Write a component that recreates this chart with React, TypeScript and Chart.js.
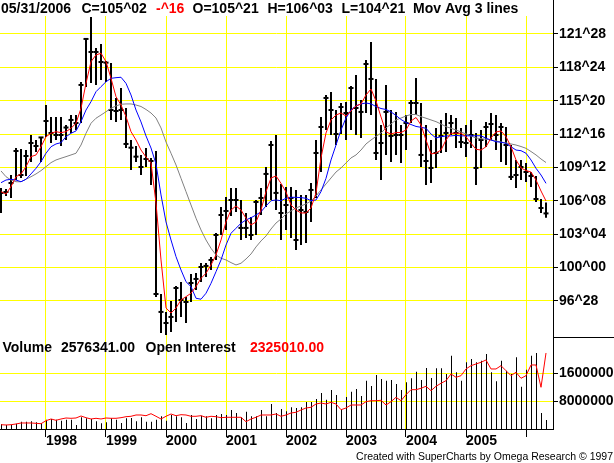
import React, { useEffect, useRef } from 'react';
import { Chart, registerables } from 'chart.js';

Chart.register(...registerables);

const FONT = "'Liberation Sans', Arial, Helvetica, sans-serif";

// Month index 0 = April 1997, last = May 2006
const START_YEAR = 1997;
const START_MONTH = 4;
const YEARS = [1998, 1999, 2000, 2001, 2002, 2003, 2004, 2005, 2006];

const PRICE_TICKS = [96.875, 100, 103.125, 106.25, 109.375, 112.5, 115.625, 118.75, 121.875];
const VOLUME_TICKS = [8000000, 16000000];

const highs = [
  107.44, 107.35, 108.66, 111.19, 111.10, 111.00, 112.41, 111.94, 112.22, 115.22,
  114.10, 114.10, 114.10, 113.35, 114.28, 114.28, 117.38, 121.50, 123.47, 120.56,
  120.94, 119.34, 119.16, 115.88, 116.81, 114.94, 111.94, 111.38, 110.54, 111.19,
  110.26, 110.91, 97.51, 95.83, 96.86, 98.26, 98.64, 97.23, 99.39, 99.48,
  100.42, 100.42, 100.98, 103.23, 105.66, 106.60, 107.44, 107.44, 106.32, 105.10,
  104.73, 106.32, 107.44, 109.41, 111.85, 112.41, 107.82, 107.54, 107.54, 107.26,
  106.79, 106.79, 107.91, 111.94, 114.10, 116.16, 116.44, 114.75, 115.41, 115.50,
  117.00, 118.03, 115.69, 119.44, 121.12, 117.66, 113.35, 117.10, 114.75, 114.57,
  113.35, 114.28, 115.69, 117.75, 115.41, 113.35, 111.94, 113.07, 113.82, 114.47,
  114.28, 114.00, 113.07, 113.35, 113.82, 112.60, 112.88, 113.63, 114.47, 114.28,
  113.53, 113.16, 111.47, 110.07, 110.07, 109.79, 108.94, 108.57, 106.41, 106.094,
];

const lows = [
  105.10, 106.69, 106.51, 108.19, 108.38, 108.57, 109.88, 110.82, 109.88, 112.22,
  111.66, 111.94, 111.38, 111.94, 112.60, 112.88, 113.53, 116.91, 117.28, 117.10,
  117.56, 117.38, 113.82, 113.63, 113.82, 111.19, 109.13, 109.88, 108.66, 109.41,
  107.73, 97.23, 93.86, 93.67, 93.95, 94.89, 95.36, 94.79, 96.76, 97.89,
  98.64, 99.11, 99.76, 100.70, 103.04, 103.51, 104.82, 105.20, 102.57, 102.76,
  102.57, 103.04, 104.91, 105.66, 106.32, 105.38, 102.57, 103.51, 102.76, 101.63,
  102.10, 102.29, 104.26, 106.51, 108.94, 112.88, 112.41, 111.47, 112.50, 111.94,
  112.88, 112.41, 112.13, 114.47, 114.28, 110.07, 108.19, 110.54, 109.88, 110.54,
  109.79, 111.00, 113.53, 114.28, 109.41, 107.73, 107.91, 109.32, 110.72, 110.82,
  112.41, 111.19, 111.19, 110.35, 111.19, 107.73, 109.32, 111.29, 111.94, 111.00,
  109.88, 109.60, 108.19, 107.44, 108.19, 108.01, 107.54, 106.13, 105.10, 104.656,
];

const closes = [
  106.98, 107.07, 107.91, 110.91, 108.66, 110.44, 111.66, 111.38, 112.18, 113.72,
  112.60, 112.41, 112.41, 113.11, 113.82, 113.53, 117.10, 121.41, 120.19, 120.19,
  119.25, 119.19, 114.75, 114.66, 114.75, 111.57, 111.22, 110.38, 109.41, 110.16,
  109.97, 97.51, 95.83, 94.79, 95.36, 98.07, 96.95, 96.76, 98.54, 98.92,
  100.04, 100.14, 100.70, 103.04, 104.91, 105.29, 106.32, 106.32, 103.70, 103.70,
  103.04, 106.13, 106.51, 108.76, 111.47, 106.98, 105.10, 105.85, 106.51, 102.57,
  105.38, 105.20, 107.26, 110.72, 113.16, 115.88, 114.75, 112.50, 115.03, 114.47,
  116.81, 114.94, 114.57, 119.06, 117.66, 110.72, 111.66, 114.57, 112.32, 112.41,
  112.41, 113.53, 115.41, 115.41, 110.54, 109.97, 109.32, 110.72, 112.32, 112.60,
  113.53, 112.60, 111.75, 111.66, 112.41, 109.32, 111.94, 113.16, 113.44, 112.41,
  113.16, 111.47, 108.48, 108.66, 109.41, 108.94, 108.57, 106.41, 105.57, 105.0625,
];

const maFast = [
  107.10, 106.88, 107.57, 108.50, 108.76, 109.44, 110.38, 110.54, 111.31, 112.25,
  112.57, 112.72, 112.63, 112.72, 113.04, 113.51, 114.91, 117.25, 119.28, 119.91,
  120.07, 119.28, 117.72, 116.00, 115.22, 114.13, 112.72, 111.94, 111.00, 110.35,
  109.79, 106.04, 100.70, 96.20, 95.73, 96.20, 96.95, 97.26, 97.58, 98.20,
  98.98, 99.45, 100.23, 101.17, 102.57, 104.29, 105.38, 105.76, 105.38, 104.61,
  103.98, 104.26, 105.38, 107.10, 108.38, 108.57, 107.88, 107.07, 105.85, 105.38,
  105.10, 105.10, 105.57, 106.98, 110.26, 112.60, 113.82, 114.28, 114.47, 114.19,
  114.66, 115.13, 115.32, 116.16, 116.72, 115.60, 114.10, 112.69, 112.50, 112.64,
  112.64, 112.88, 113.72, 114.05, 113.35, 111.94, 110.63, 110.72, 111.00, 111.94,
  112.57, 112.57, 112.57, 112.25, 111.63, 111.07, 111.00, 111.31, 112.13, 112.69,
  112.79, 112.25, 111.31, 110.07, 109.32, 109.08, 108.94, 108.19, 107.16, 106.23,
];

const maMid = [
  107.94, 108.19, 108.26, 108.19, 108.03, 108.26, 108.76, 109.29, 109.91, 110.70,
  111.31, 111.57, 111.69, 112.25, 112.57, 112.79, 113.66, 114.75, 115.53, 116.47,
  116.94, 117.40, 117.72, 117.78, 117.82, 117.25, 116.16, 114.75, 113.63, 112.32,
  111.19, 109.69, 106.79, 104.26, 102.57, 101.01, 99.76, 98.66, 98.20, 97.11,
  97.02, 97.58, 98.51, 99.60, 100.70, 102.10, 103.20, 103.67, 104.14, 104.45,
  104.66, 104.91, 105.22, 105.76, 106.25, 106.32, 106.25, 106.48, 106.57, 106.57,
  106.54, 106.48, 106.25, 106.32, 107.10, 108.35, 110.07, 111.47, 112.88, 114.00,
  114.75, 115.13, 115.32, 115.41, 115.32, 115.08, 114.89, 114.80, 114.57, 114.24,
  113.86, 113.58, 113.39, 113.21, 113.13, 113.04, 112.50, 112.13, 112.25, 112.32,
  112.32, 112.38, 112.32, 112.34, 112.32, 112.34, 112.34, 112.10, 111.94, 111.78,
  111.73, 111.63, 111.31, 111.00, 110.94, 110.70, 110.07, 109.29, 108.66, 107.88,
];

const maSlow = [
  109.04, 108.50, 108.19, 108.03, 108.03, 108.26, 108.50, 108.76, 109.07, 109.44,
  109.82, 110.07, 110.23, 110.38, 110.54, 110.70, 111.47, 112.57, 113.51, 113.98,
  114.28, 114.59, 114.91, 115.13, 115.29, 115.32, 115.32, 115.22, 115.08, 114.80,
  114.47, 114.00, 113.07, 111.75, 110.70, 109.60, 108.35, 107.10, 105.85, 104.61,
  103.51, 102.57, 101.79, 101.17, 100.86, 100.70, 100.45, 100.23, 100.39, 100.79,
  101.26, 101.92, 102.48, 102.95, 103.60, 104.16, 104.54, 105.01, 105.29, 105.57,
  105.76, 105.95, 106.23, 106.69, 107.26, 107.82, 108.38, 108.94, 109.32, 109.79,
  110.26, 110.54, 111.00, 111.57, 111.94, 112.27, 112.60, 113.07, 113.44, 113.82,
  114.00, 114.19, 114.33, 114.33, 114.13, 113.98, 113.82, 113.66, 113.44, 113.19,
  113.04, 112.88, 112.69, 112.50, 112.32, 112.13, 112.06, 112.01, 111.94, 111.85,
  111.75, 111.66, 111.57, 111.47, 111.33, 111.16, 110.86, 110.54, 110.16, 109.83,
];

const volume = [
  1430000, 1140000, 1230000, 1510000, 2090000, 2090000, 2200000, 1910000, 1710000, 2660000,
  2860000, 2660000, 2370000, 2660000, 2660000, 1140000, 3340000, 3060000, 2860000, 2200000,
  1630000, 1910000, 3060000, 2660000, 1710000, 3060000, 3140000, 2200000, 3340000, 2090000,
  2090000, 2660000, 3630000, 2370000, 4000000, 3630000, 3340000, 1710000, 4000000, 2860000,
  3800000, 3630000, 3060000, 4000000, 4290000, 4000000, 5430000, 4570000, 3340000, 4940000,
  3630000, 3630000, 5430000, 3630000, 7140000, 4570000, 5710000, 5060000, 6200000, 6000000,
  6200000, 7710000, 7710000, 8570000, 10290000, 8370000, 11140000, 9710000, 5710000, 9140000,
  10660000, 11430000, 9430000, 13800000, 12290000, 15430000, 14290000, 13800000, 14000000, 12860000,
  11140000, 13340000, 14490000, 16370000, 14000000, 17430000, 14570000, 17340000, 17340000, 15710000,
  20940000, 16200000, 13800000, 19060000, 20000000, 19060000, 19510000, 21430000, 16200000, 13630000,
  19510000, 16660000, 15710000, 20490000, 12090000, 16940000, 20940000, 21710000, 4570000, 2576341,
];

const openInterest = [
  131500, 122400, 131500, 153000, 183600, 183600, 183600, 174400, 162100, 253900,
  305900, 266200, 305900, 336500, 327300, 336500, 397700, 345700, 305900, 327300,
  305900, 336500, 327300, 327300, 345700, 376300, 388500, 428300, 428300, 406900,
  468100, 388500, 305900, 388500, 458900, 406900, 437500, 428300, 388500, 388500,
  406900, 357900, 388500, 376300, 345700, 357900, 357900, 357900, 357900, 223300,
  305900, 357900, 428300, 428300, 428300, 458900, 388500, 428300, 489500, 510900,
  581200, 642400, 663800, 764800, 795400, 764800, 816800, 764800, 590400, 642400,
  734200, 734200, 734200, 835200, 865800, 865800, 878000, 734200, 835200, 969800,
  865800, 1049300, 1202300, 1202300, 1245100, 1306300, 1171700, 1306300, 1398100, 1477600,
  1682600, 1581600, 1630600, 1835500, 1936500, 1988500, 2040500, 2110800, 1835500, 1835500,
  1936500, 1783500, 1630600, 1734600, 1551000, 1630600, 1957900, 1957900, 1275700, 2325010,
];

const HEADER = [
  { text: '05/31/2006', color: '#000000', x: 1 },
  { text: 'C=105^02', color: '#000000', x: 81.5 },
  { text: '-^16', color: '#FF0000', x: 156 },
  { text: 'O=105^21', color: '#000000', x: 192.5 },
  { text: 'H=106^03', color: '#000000', x: 267.5 },
  { text: 'L=104^21', color: '#000000', x: 341.5 },
  { text: 'Mov Avg 3 lines', color: '#000000', x: 413 },
];

const VOLUME_LEGEND = [
  { text: 'Volume', color: '#000000', x: 2.5 },
  { text: '2576341.00', color: '#000000', x: 61 },
  { text: 'Open Interest', color: '#000000', x: 145.5 },
  { text: '2325010.00', color: '#FF0000', x: 250 },
];

const FOOTER = 'Created with SuperCharts by Omega Research \u00A9 1997';

const fmt32 = (v: number) => {
  const whole = Math.floor(v + 1e-9);
  const t = Math.round((v - whole) * 32);
  return `${whole}^${String(t).padStart(2, '0')}`;
};

const yearTickValue = (y: number) => (y - START_YEAR) * 12 + (1 - START_MONTH);

const textPlugin = {
  id: 'superchartsTexts',
  beforeDatasetDraw(chart: any, args: any) {
    if (chart.data.datasets[args.index].label === 'Volume') {
      chart.ctx.save();
      chart.ctx.translate(0.5, 0);
    }
  },
  afterDatasetDraw(chart: any, args: any) {
    if (chart.data.datasets[args.index].label === 'Volume') {
      chart.ctx.restore();
    }
  },
  afterDraw(chart: any) {
    const ctx = chart.ctx as CanvasRenderingContext2D;
    const yS = chart.scales.y;
    const vS = chart.scales.yVol;
    ctx.save();
    ctx.strokeStyle = '#000';
    ctx.lineWidth = 1;
    ctx.beginPath();
    ctx.moveTo(Math.round(yS.left) + 0.5, 0);
    ctx.lineTo(Math.round(yS.left) + 0.5, yS.top);
    ctx.moveTo(yS.left, Math.round(vS.top) + 0.5);
    ctx.lineTo(chart.width, Math.round(vS.top) + 0.5);
    ctx.stroke();

    ctx.font = `bold 14px ${FONT}`;
    ctx.textBaseline = 'alphabetic';
    ctx.textAlign = 'left';
    HEADER.forEach((p) => {
      ctx.fillStyle = p.color;
      ctx.fillText(p.text, p.x, 13);
    });
    VOLUME_LEGEND.forEach((p) => {
      ctx.fillStyle = p.color;
      ctx.fillText(p.text, p.x, 351.5);
    });
    ctx.font = `10.5px ${FONT}`;
    ctx.fillStyle = '#000';
    ctx.textAlign = 'right';
    ctx.fillText(FOOTER, 613, 460);
    ctx.restore();
  },
};

export default function App() {
  const ref = useRef<HTMLCanvasElement>(null);

  useEffect(() => {
    const canvas = ref.current;
    if (!canvas) return;
    const tickFont = { family: FONT, size: 14, weight: 'bold' as const };

    const chart = new Chart(canvas, {
      type: 'line',
      data: {
        datasets: [
          {
            type: 'line',
            label: 'MA fast',
            data: maFast.map((v, i) => ({ x: i, y: v })),
            borderColor: '#FF0000',
            borderWidth: 1,
            pointRadius: 0,
            tension: 0,
            fill: false,
            yAxisID: 'y',
            order: 0,
          },
          {
            type: 'line',
            label: 'MA mid',
            data: maMid.map((v, i) => ({ x: i, y: v })),
            borderColor: '#0000FF',
            borderWidth: 1,
            pointRadius: 0,
            tension: 0,
            fill: false,
            yAxisID: 'y',
            order: 1,
          },
          {
            type: 'line',
            label: 'MA slow',
            data: maSlow.map((v, i) => ({ x: i, y: v })),
            borderColor: '#808080',
            borderWidth: 1,
            pointRadius: 0,
            tension: 0,
            fill: false,
            yAxisID: 'y',
            order: 2,
          },
          {
            type: 'line',
            label: 'Close',
            data: closes.map((v, i) => ({ x: i, y: v })),
            showLine: false,
            pointStyle: 'line',
            pointRadius: 2.5,
            pointHoverRadius: 2.5,
            pointBorderWidth: 2,
            pointBorderColor: '#000000',
            pointBackgroundColor: '#000000',
            yAxisID: 'y',
            order: 4,
          } as any,
          {
            type: 'bar',
            label: 'Range',
            data: highs.map((h, i) => ({ x: i, y: [lows[i], h] })),
            backgroundColor: '#000000',
            borderWidth: 0,
            barThickness: 2,
            grouped: false,
            inflateAmount: 0,
            yAxisID: 'y',
            order: 5,
          } as any,
          {
            type: 'bar',
            label: 'Volume',
            data: volume.map((v, i) => ({ x: i, y: v })),
            backgroundColor: '#000000',
            borderWidth: 0,
            barThickness: 1,
            grouped: false,
            inflateAmount: 0,
            yAxisID: 'yVol',
            order: 6,
          } as any,
          {
            type: 'line',
            label: 'Open Interest',
            data: openInterest.map((v, i) => ({ x: i, y: v })),
            borderColor: '#FF0000',
            borderWidth: 1,
            pointRadius: 0,
            tension: 0,
            fill: false,
            yAxisID: 'yOI',
            order: 3,
          },
        ],
      },
      options: {
        responsive: false,
        maintainAspectRatio: false,
        animation: false,
        events: [],
        layout: { autoPadding: false, padding: { top: 16, bottom: 14, left: 0, right: 0 } },
        plugins: {
          legend: { display: false },
          tooltip: { enabled: false },
          title: { display: false },
        },
        scales: {
          x: {
            type: 'linear',
            min: -0.2,
            max: 110.4,
            offset: false,
            afterBuildTicks: (s: any) => {
              s.ticks = YEARS.map((y) => ({ value: yearTickValue(y) }));
            },
            afterFit: (s: any) => {
              s.height = 20;
            },
            grid: {
              color: '#FFFF00',
              lineWidth: 1,
              tickColor: '#000000',
              tickLength: 8,
              offset: false,
            },
            border: { display: true, color: '#000000', width: 1 },
            ticks: {
              align: 'start',
              padding: -4,
              color: '#000000',
              font: tickFont,
              maxRotation: 0,
              autoSkip: false,
              callback: (_v: any, i: number) => (i < YEARS.length - 1 ? String(YEARS[i]) : ''),
            },
          },
          y: {
            type: 'linear',
            position: 'right',
            stack: 'panels',
            stackWeight: 321,
            min: 93.48,
            max: 123.56,
            afterBuildTicks: (s: any) => {
              s.ticks = PRICE_TICKS.map((v) => ({ value: v }));
            },
            afterFit: (s: any) => {
              s.width = 61;
            },
            grid: { color: '#FFFF00', lineWidth: 1, tickColor: '#000000', tickLength: 5 },
            border: { display: true, color: '#000000', width: 1 },
            ticks: {
              color: '#000000',
              font: tickFont,
              padding: 1,
              autoSkip: false,
              callback: (v: any) => fmt32(Number(v)),
            },
          },
          yVol: {
            type: 'linear',
            position: 'right',
            stack: 'panels',
            stackWeight: 92,
            min: 0,
            max: 26290000,
            afterBuildTicks: (s: any) => {
              s.ticks = VOLUME_TICKS.map((v) => ({ value: v }));
            },
            afterFit: (s: any) => {
              s.width = 61;
            },
            grid: { color: '#FFFF00', lineWidth: 1, tickColor: '#000000', tickLength: 5 },
            border: { display: true, color: '#000000', width: 1 },
            ticks: {
              color: '#000000',
              font: tickFont,
              padding: 1,
              autoSkip: false,
              callback: (v: any) => String(v),
            },
          },
          yOI: {
            type: 'linear',
            position: 'right',
            display: false,
            min: 0,
            max: 12630000,
          },
        },
      } as any,
      plugins: [textPlugin],
    });

    return () => chart.destroy();
  }, []);

  return (
    <div style={{ position: 'fixed', left: 0, top: 0, width: 614, height: 463, background: '#ffffff' }}>
      <canvas ref={ref} width={614} height={463} style={{ display: 'block', width: 614, height: 463 }} />
    </div>
  );
}
